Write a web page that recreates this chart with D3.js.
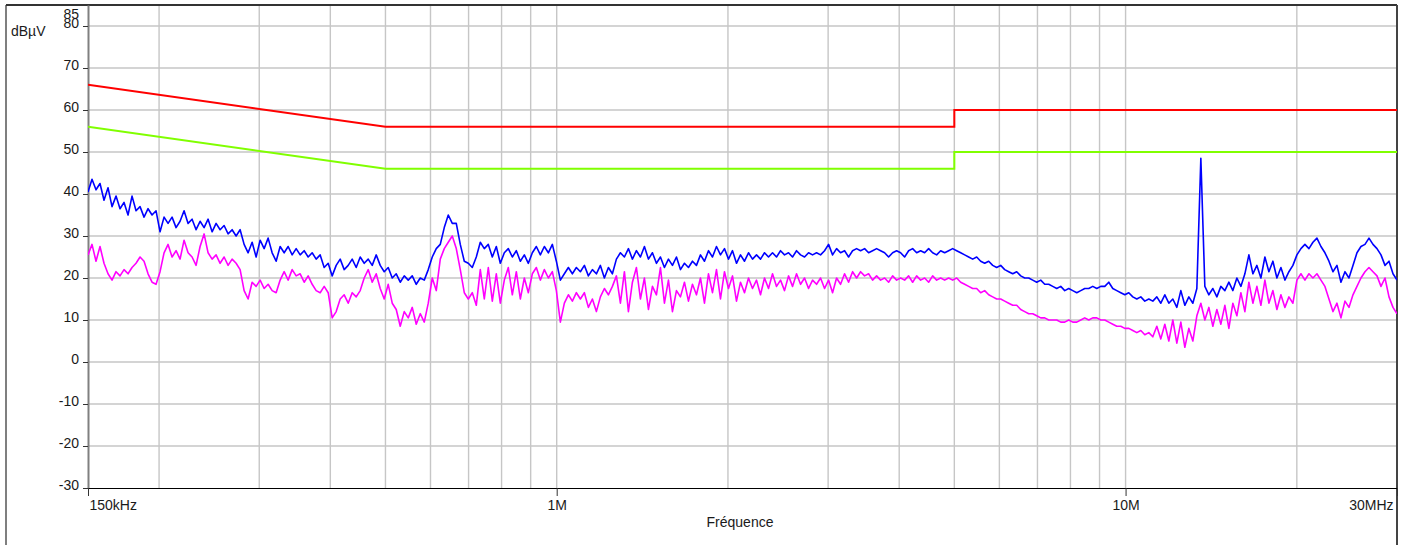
<!DOCTYPE html>
<html>
<head>
<meta charset="utf-8">
<script src="https://cdn.jsdelivr.net/npm/d3@7"></script>
<style>
  html, body { margin: 0; padding: 0; background: #fff; }
  svg { display: block; }
  text { font-family: "Liberation Sans", Arial, sans-serif; font-size: 14px; fill: #1a1a1a; }
</style>
</head>
<body>
<script>
// Conducted emission scan, 150 kHz – 30 MHz (values in dBµV)

// Sweep: start / stop frequency in MHz and number of points of the scan
const sweepStart = 0.15;
const sweepStop = 30;
const sweepPoints = 328;

// Peak detector trace (blue)
const peakLevel = [
  40.5, 43.5, 41, 42.5, 38.5, 41.5, 37, 39.5, 36.5, 38,
  35, 39.5, 36, 37, 34.5, 36.5, 35, 36, 31, 34.5,
  33, 34.5, 32, 33.5, 36, 33, 34, 31.5, 33.5, 32,
  34, 31, 33, 31.5, 32.5, 30.5, 31.5, 30, 31.5, 28,
  26, 28.5, 25, 29, 27, 29.5, 26, 24, 27.5, 26,
  27.5, 25.5, 27, 25.5, 26.5, 25, 26, 24.5, 25.5, 22.5,
  23.5, 20.5, 23, 24.5, 22, 23, 24.5, 22.5, 25, 23.5,
  24.5, 23, 25.5, 23, 21.5, 22.5, 20, 21, 19, 20.5,
  19.5, 20.5, 18.5, 20, 19.5, 22, 25, 27, 28, 32,
  35, 33, 33, 28, 24, 23.5, 22.5, 25, 28.5, 27,
  28, 25, 27.5, 23.5, 26, 27, 25, 26.5, 24, 25.5,
  23.5, 26, 27.5, 25.5, 27.5, 26, 28, 24, 19.5, 21,
  22.5, 21, 22.5, 21.5, 23, 20.5, 22, 21, 23, 20,
  22.5, 21, 24.5, 26, 25, 27, 24.5, 26.5, 25, 27.5,
  24.5, 26, 23.5, 25, 22.5, 24.5, 23, 25, 22, 23.5,
  22.5, 24, 23, 25.5, 24, 26.5, 25, 27.5, 25.5, 27,
  24.5, 26.5, 23.5, 25.5, 24, 26, 24.5, 25.5, 24.5, 26,
  25, 26, 25, 26.5, 25.5, 26, 25, 26.5, 25.5, 25,
  26, 25.5, 26, 25.5, 26.5, 28, 25.5, 27, 26, 26.5,
  25, 26.5, 27, 26.5, 27, 26, 26.5, 27, 26.5, 26,
  25, 26, 26.5, 26, 25, 26.5, 27, 26, 26.5, 26,
  27, 26, 25.5, 26.5, 26, 26.5, 27, 26.5, 26, 25.5,
  25, 24.5, 25, 24, 23.5, 24, 23, 22.5, 23, 22,
  21.5, 21, 21.5, 20.5, 20, 20, 19.5, 19, 19.5, 18.5,
  18.5, 18, 17.5, 18, 17, 17.5, 17, 16.5, 17, 17.5,
  17.5, 18, 17.5, 18, 18, 19, 17.5, 17, 16.5, 16,
  16.5, 15.5, 15, 15.5, 14.5, 15, 14.5, 15.5, 14, 16,
  14, 15, 13, 17, 13.5, 15.5, 14, 17.5, 48.5, 18,
  16, 17.5, 15.5, 18, 17, 19, 17, 20, 18, 21,
  25.5, 21, 23, 20, 25, 21.5, 24, 20, 22.5, 19.5,
  21.5, 23, 25.5, 27, 28, 27, 28.5, 29.5, 27.5, 26,
  24, 21.5, 23, 19, 21.5, 20, 23, 26, 27.5, 28,
  29.5, 28, 27, 25.5, 23, 24, 21, 19.5
];

// Average detector trace (magenta)
const avgLevel = [
  25.5, 28, 24, 27.5, 23.5, 21, 19.5, 21.5, 20.5, 22,
  21, 22.5, 23.5, 25, 24, 21, 19, 18.5, 21.5, 26,
  28, 25, 26.5, 24.5, 29, 26, 25, 23, 27.5, 30.5,
  26, 24.5, 25.5, 23.5, 25, 23, 24.5, 23.5, 22, 17,
  15, 19, 18, 19.5, 17.5, 18.5, 17, 16.5, 19.5, 21.5,
  19.5, 22, 20.5, 21, 19, 20.5, 18.5, 17, 16.5, 18,
  16.5, 10.5, 12, 15, 16, 14, 16.5, 15.5, 17, 20,
  22, 19, 21, 17.5, 15, 18.5, 14, 12.5, 8.5, 12,
  10.5, 13, 9, 11.5, 9.5, 14, 20, 17, 24.5, 27,
  28.5, 30, 27, 22, 16.5, 15, 16.5, 13.5, 22, 15,
  22.5, 14.5, 21, 14, 19.5, 22.5, 16, 21.5, 15, 20,
  16.5, 21, 22.5, 19.5, 22, 20, 21.5, 17, 9.5, 14,
  16, 14.5, 16.5, 15, 16.5, 13, 15, 12, 15.5, 17.5,
  16, 18, 20.5, 14, 21.5, 12, 19, 22.5, 15, 20,
  12.5, 18, 16, 22.5, 14, 19.5, 12, 17, 15.5, 19,
  14.5, 18.5, 16, 20, 14, 21, 16.5, 22, 15, 21.5,
  17.5, 20.5, 14.5, 19, 16.5, 20, 17.5, 19.5, 16, 20,
  17.5, 21, 18, 19.5, 17, 20.5, 18, 21, 18.5, 20,
  17.5, 19.5, 18.5, 20, 17.5, 19.5, 16.5, 20, 18.5, 21,
  19, 21.5, 20, 21.5, 20.5, 21, 19.5, 20.5, 19.5, 20,
  19, 20.5, 19.5, 20, 19.5, 20.5, 19, 20.5, 19.5, 20,
  19, 20.5, 19.5, 20, 19.5, 20, 19.5, 20, 19, 18.5,
  18, 17.5, 17.5, 16.5, 17, 16, 15.5, 15, 15, 14.5,
  14, 13.5, 13.5, 12.5, 12, 11.5, 11.5, 11, 10.5, 10.5,
  10, 10, 10, 9.5, 9.5, 10, 9.5, 9.5, 10, 10.5,
  10, 10.5, 10.5, 10, 10, 9.5, 9, 8.5, 8.5, 8,
  8, 7.5, 7, 7.5, 6.5, 7, 6, 8.5, 5.5, 9,
  5, 10, 4.5, 9.5, 3.5, 8, 5, 11, 14, 10,
  13, 8.5, 12.5, 9, 13.5, 8, 14, 11, 16.5, 12,
  19, 14, 18, 13.5, 19.5, 14, 17, 12.5, 16, 13,
  15.5, 14, 19.5, 21, 19.5, 21, 20, 21, 19.5, 18,
  15, 12, 14, 10.5, 14.5, 13, 16, 18, 20, 21.5,
  22.5, 21.5, 20.5, 18, 20, 15.5, 13, 11.5
];

// Limit lines: corner frequencies and levels
const limitFreq = [0.15, 0.5, 5, 5, 30];
const limitQuasiPeak = [66, 56, 56, 60, 60];
const limitAverage = [56, 46, 46, 50, 50];

// Axis ticks
const yTickValues = [-30, -20, -10, 0, 10, 20, 30, 40, 50, 60, 70, 80, 85];
const xGridValues = [0.2, 0.3, 0.4, 0.5, 0.6, 0.7, 0.8, 0.9, 1, 2, 3, 4, 5, 6, 7, 8, 9, 10, 20];
const xTickValues = [0.15, 1, 10, 30];
const xTickLabels = ["150kHz", "1M", "10M", "30MHz"];

const W = 1410, H = 545;
const plot = { left: 88, right: 1397, top: 5, bottom: 488 };

const svg = d3.select("body").append("svg")
  .attr("width", W).attr("height", H);

svg.append("rect").attr("width", W).attr("height", H).attr("fill", "#fff");

const x = d3.scaleLog().domain([sweepStart, sweepStop]).range([plot.left, plot.right]);
const y = d3.scaleLinear().domain([-30, 85]).range([plot.bottom, plot.top]);

// Sweep frequencies (log-spaced receiver steps)
const freqs = d3.range(sweepPoints).map(i =>
  sweepStart * Math.pow(sweepStop / sweepStart, i / (sweepPoints - 1)));

// Grid
const grid = svg.append("g").attr("class", "grid");
grid.selectAll("line.v").data(xGridValues).join("line")
  .attr("class", "v")
  .attr("x1", d => x(d)).attr("x2", d => x(d))
  .attr("y1", plot.top).attr("y2", plot.bottom)
  .attr("stroke", "#c6c6c6").attr("stroke-width", 1.4);
grid.selectAll("line.h").data(yTickValues.filter(v => v > -30 && v < 85)).join("line")
  .attr("class", "h")
  .attr("x1", plot.left).attr("x2", plot.right)
  .attr("y1", d => y(d)).attr("y2", d => y(d))
  .attr("stroke", "#c6c6c6").attr("stroke-width", 1.4);

// Outer frame
svg.append("line").attr("x1", 6).attr("x2", 6).attr("y1", 5).attr("y2", H)
  .attr("stroke", "#555").attr("stroke-width", 1.5);
svg.append("line").attr("x1", 6).attr("x2", plot.right).attr("y1", 5).attr("y2", 5)
  .attr("stroke", "#333").attr("stroke-width", 2);
svg.append("line").attr("x1", plot.right).attr("x2", plot.right).attr("y1", 5).attr("y2", H)
  .attr("stroke", "#444").attr("stroke-width", 2);

// Y axis
const yAxis = d3.axisLeft(y)
  .tickValues(yTickValues)
  .tickSize(5)
  .tickSizeOuter(0)
  .tickFormat(d => String(d));
const gy = svg.append("g").attr("transform", `translate(${plot.left},0)`).call(yAxis);
gy.select(".domain").attr("stroke", "#808080").attr("stroke-width", 2);
gy.selectAll(".tick line").attr("stroke", "#333")
  .filter(d => d === 85).remove();
gy.selectAll(".tick text")
  .attr("x", -9)
  .attr("dy", d => d === 85 ? 13 : 1)
  .style("font-size", "14px").style("font-family", "Liberation Sans, Arial, sans-serif")
  .attr("fill", "#1a1a1a");

// X axis
const xAxis = d3.axisBottom(x)
  .tickValues(xTickValues)
  .tickSize(8)
  .tickSizeOuter(0)
  .tickFormat((d, i) => xTickLabels[i]);
const gx = svg.append("g").attr("transform", `translate(0,${plot.bottom})`).call(xAxis);
gx.select(".domain").attr("stroke", "#000").attr("stroke-width", 1.2);
gx.selectAll(".tick line").attr("stroke", "#333");
gx.selectAll(".tick text")
  .attr("y", 22).attr("dy", 0)
  .attr("x", (d, i) => i === 0 ? 1 : (i === xTickLabels.length - 1 ? -4 : 0))
  .attr("text-anchor", (d, i) => i === 0 ? "start" : (i === xTickLabels.length - 1 ? "end" : "middle"))
  .style("font-size", "14px").style("font-family", "Liberation Sans, Arial, sans-serif")
  .attr("fill", "#1a1a1a");

// Axis titles
svg.append("text").attr("x", 11).attr("y", 36).text("dBµV");
svg.append("text").attr("x", 740).attr("y", 527).attr("text-anchor", "middle").text("Fréquence");

// Clip for traces
svg.append("clipPath").attr("id", "plotClip").append("rect")
  .attr("x", plot.left).attr("y", plot.top)
  .attr("width", plot.right - plot.left).attr("height", plot.bottom - plot.top);

const traces = svg.append("g").attr("clip-path", "url(#plotClip)");

const line = d3.line().x(d => x(d[0])).y(d => y(d[1]));

// Limits
traces.append("path")
  .attr("d", line(limitFreq.map((f, i) => [f, limitQuasiPeak[i]])))
  .attr("fill", "none").attr("stroke", "#ff0000").attr("stroke-width", 2);
traces.append("path")
  .attr("d", line(limitFreq.map((f, i) => [f, limitAverage[i]])))
  .attr("fill", "none").attr("stroke", "#80ff00").attr("stroke-width", 2);

// Measured traces
traces.append("path")
  .attr("d", line(freqs.map((f, i) => [f, avgLevel[i]])))
  .attr("fill", "none").attr("stroke", "#ff00ff").attr("stroke-width", 1.6)
  .attr("stroke-linejoin", "round");
traces.append("path")
  .attr("d", line(freqs.map((f, i) => [f, peakLevel[i]])))
  .attr("fill", "none").attr("stroke", "#0000ff").attr("stroke-width", 1.6)
  .attr("stroke-linejoin", "round");
</script>
</body>
</html>
